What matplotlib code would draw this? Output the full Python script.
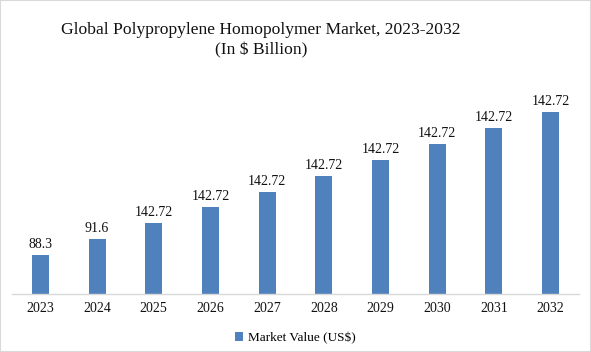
import matplotlib
matplotlib.use("Agg")
import matplotlib.pyplot as plt
from matplotlib.patches import Rectangle

years = ["2023", "2024", "2025", "2026", "2027", "2028", "2029", "2030", "2031", "2032"]
# bar heights (relative units)
heights = [39, 55, 71, 87, 102, 118, 134, 150, 166, 182]
# value labels as printed on the chart
value_labels = ["88.3", "91.6", "142.72", "142.72", "142.72", "142.72",
                "142.72", "142.72", "142.72", "142.72"]

W, H = 591, 352
fig = plt.figure(figsize=(W / 100, H / 100), dpi=100)
serif = ["Liberation Serif", "DejaVu Serif"]
bar_color = "#4f81bd"

ax_left, ax_right = 12 / W, 579 / W
ax_bottom = (H - 294) / H
ax_top = (H - 100) / H
ax = fig.add_axes([ax_left, ax_bottom, ax_right - ax_left, ax_top - ax_bottom])

x = list(range(len(years)))
bars = ax.bar(x, heights, width=0.30, color=bar_color, label="Market Value (US$)")
for xi, h, lab in zip(x, heights, value_labels):
    ax.annotate(lab, (xi, h), xytext=(0, 3), textcoords="offset points",
                ha="center", va="bottom", fontsize=10, family=serif, color="#111111")

ax.set_xlim(-0.5, len(years) - 0.5)
ax.set_ylim(0, 194)
ax.set_xticks(x)
ax.set_xticklabels(years, family=serif, fontsize=10, color="#111111")
ax.tick_params(axis="x", length=0, pad=6)
ax.set_yticks([])
for s in ["top", "right", "left"]:
    ax.spines[s].set_visible(False)
ax.spines["bottom"].set_color("#d9d9d9")
ax.spines["bottom"].set_linewidth(1.0)

tx = 261 / W
fig.text(tx, (H - 30) / H, "Global Polypropylene Homopolymer Market, 2023-2032",
         ha="center", va="center", fontsize=12.6, family=serif, color="#111111")
fig.text(tx, (H - 50) / H, "(In $ Billion)",
         ha="center", va="center", fontsize=12.6, family=serif, color="#111111")

leg = fig.legend(handles=[bars], labels=["Market Value (US$)"],
                 loc="center", bbox_to_anchor=(0.5, (H - 338) / H),
                 frameon=False, prop={"family": serif, "size": 9.5},
                 handlelength=0.6, handleheight=0.6, handletextpad=0.4)

fig.patches.append(Rectangle((0, 0), 1, 1, transform=fig.transFigure,
                             fill=False, edgecolor="#d9d9d9", linewidth=1.5))

fig.savefig("out.png", dpi=100)
